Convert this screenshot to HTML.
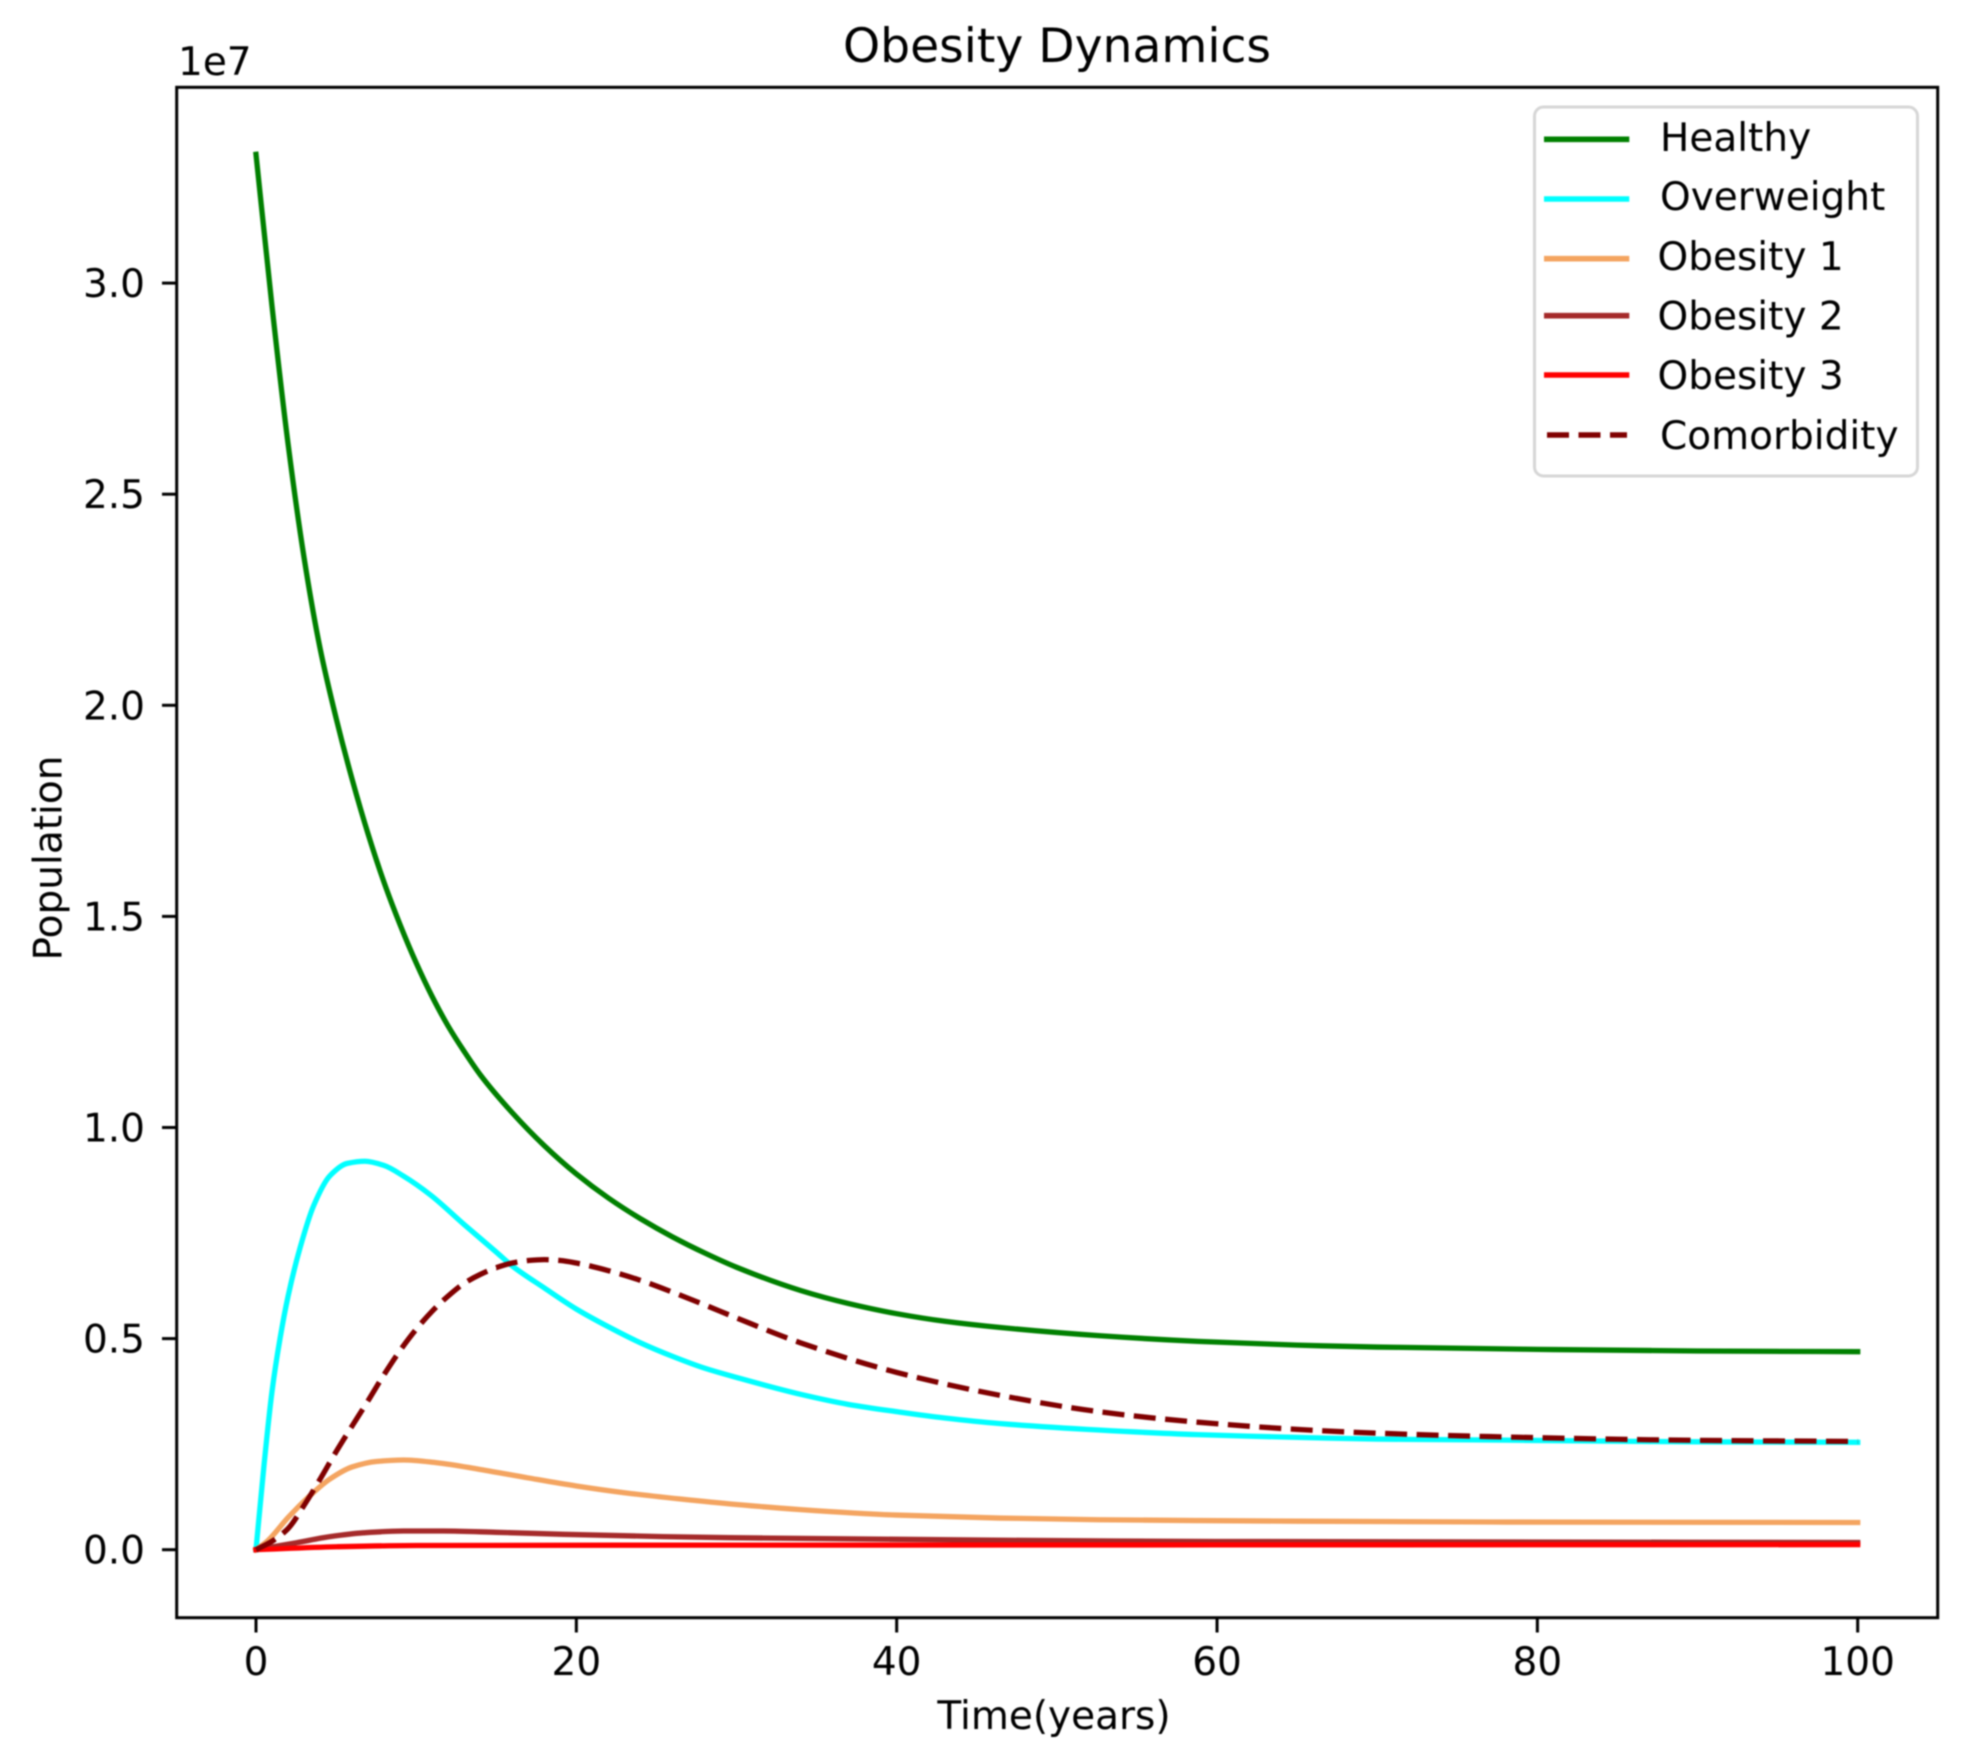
<!DOCTYPE html>
<html lang="en">
<head>
<meta charset="utf-8">
<title>Obesity Dynamics</title>
<style>
html,body{margin:0;padding:0;background:#fff;}
body{width:1968px;height:1757px;overflow:hidden;}
svg{display:block;filter:blur(0.9px);}
text{font-family:"DejaVu Sans","Liberation Sans",sans-serif;fill:#000;font-size:39px;}
</style>
</head>
<body>
<svg id="chart" xmlns="http://www.w3.org/2000/svg" width="1968" height="1757" viewBox="0 0 1968 1757">
  <rect x="0" y="0" width="1968" height="1757" fill="#fff"/>
  <g id="marks"></g>
  <g id="ticks"></g>
  <rect x="176.7" y="87.3" width="1761" height="1530.4" fill="none" stroke="#000" stroke-width="3"/>
  <text x="1057" y="62" text-anchor="middle" style="font-size:47.2px">Obesity Dynamics</text>
  <text x="1054" y="1729" text-anchor="middle">Time(years)</text>
  <text transform="translate(61.7 858) rotate(-90)" text-anchor="middle">Population</text>
  <text x="178" y="75">1e7</text>
  <g>
    <rect x="1534.5" y="107" width="383" height="369" rx="9" ry="9" fill="#fff" fill-opacity="0.8" stroke="#d6d6d6" stroke-width="3"/>
    <line x1="1544" y1="139.3" x2="1629.3" y2="139.3" stroke="#008000" stroke-width="5.6"/>
    <line x1="1544" y1="199" x2="1629.3" y2="199" stroke="#00ffff" stroke-width="5.6"/>
    <line x1="1544" y1="258.7" x2="1629.3" y2="258.7" stroke="#f4a460" stroke-width="5.6"/>
    <line x1="1544" y1="315.7" x2="1629.3" y2="315.7" stroke="#a52a2a" stroke-width="5.6"/>
    <line x1="1544" y1="375" x2="1629.3" y2="375" stroke="#ff0000" stroke-width="5.6"/>
    <line x1="1547" y1="435" x2="1627" y2="435" stroke="#800000" stroke-width="5.6" stroke-dasharray="22 9.5"/>
    <text x="1660" y="151">Healthy</text>
    <text x="1660" y="210">Overweight</text>
    <text x="1657.5" y="270">Obesity 1</text>
    <text x="1657.5" y="329.5">Obesity 2</text>
    <text x="1657.5" y="389">Obesity 3</text>
    <text x="1660" y="449">Comorbidity</text>
  </g>
</svg>
<script>
// Tick labels
const xTickValues = [0, 20, 40, 60, 80, 100];
const yTickValues = [0.0, 0.5, 1.0, 1.5, 2.0, 2.5, 3.0];

// Series, values in units of 1e7 people
const healthyTimes = [0, 1, 2, 3, 4, 5, 6, 7, 8, 9, 10, 11, 12, 13, 14, 16, 18, 20, 22, 24, 26, 28, 30, 34, 37, 40, 43, 46.4, 52.6, 58.8, 65, 70, 80, 90, 100];
const healthyValues = [3.305, 2.945, 2.62, 2.35, 2.135, 1.97, 1.825, 1.695, 1.58, 1.48, 1.39, 1.31, 1.24, 1.18, 1.125, 1.035, 0.957, 0.89, 0.833, 0.784, 0.741, 0.703, 0.669, 0.614, 0.583, 0.559, 0.541, 0.5265, 0.507, 0.4935, 0.4845, 0.48, 0.4745, 0.4706, 0.469];

const overweightTimes = [0, 0.5, 1, 1.5, 2, 2.75, 3.6, 4.6, 5.7, 6.8, 8, 9.2, 10.9, 13, 15, 16, 18, 20, 22, 24, 26, 28, 30, 34, 37, 40, 43, 46.4, 52.6, 58.8, 65, 70, 78, 90, 100];
const overweightValues = [0, 0.2, 0.375, 0.5, 0.6, 0.715, 0.815, 0.885, 0.915, 0.92, 0.91, 0.885, 0.84, 0.77, 0.705, 0.672, 0.62, 0.57, 0.528, 0.49, 0.458, 0.43, 0.408, 0.368, 0.344, 0.327, 0.312, 0.299, 0.2835, 0.2725, 0.266, 0.262, 0.2595, 0.2555, 0.2543];

const obesity1Times = [0, 0.7, 2, 3.2, 4.6, 6, 7.5, 9.2, 11.3, 14, 17, 20, 23, 26.5, 30, 34, 40, 46.4, 52.6, 58.8, 65, 78, 100];
const obesity1Values = [0, 0.02, 0.076, 0.122, 0.167, 0.196, 0.209, 0.2125, 0.206, 0.19, 0.17, 0.151, 0.135, 0.12, 0.107, 0.095, 0.082, 0.075, 0.071, 0.069, 0.0675, 0.0655, 0.0645];

const obesity2Times = [0, 2.54, 4.62, 6.7, 9.2, 11.7, 15, 19.2, 25.4, 29.6, 46, 60, 100];
const obesity2Values = [0, 0.0166, 0.031, 0.04, 0.0443, 0.0443, 0.0412, 0.0365, 0.031, 0.0284, 0.0225, 0.0195, 0.017];

const obesity3Times = [0, 5, 10, 30, 60, 100];
const obesity3Values = [0, 0.007, 0.01, 0.0108, 0.0114, 0.012];

const comorbidityTimes = [0, 1, 2, 3, 4, 5, 6, 7, 8, 9, 10, 11, 12, 13, 14, 15, 16, 17, 18, 19, 20, 22, 24, 26, 28, 30, 34, 40, 46.4, 52.6, 58.8, 65, 70, 78, 90, 100];
const comorbidityValues = [0, 0.02, 0.05, 0.105, 0.167, 0.232, 0.293, 0.353, 0.415, 0.472, 0.522, 0.565, 0.601, 0.631, 0.652, 0.668, 0.679, 0.685, 0.687, 0.685, 0.679, 0.661, 0.638, 0.61, 0.58, 0.549, 0.49, 0.42, 0.366, 0.327, 0.302, 0.285, 0.276, 0.267, 0.259, 0.2565];

// Axis functions
function xScale(t) { return 256 + 16.017 * t; }
function yScale(v) { return 1549.7 - 422.2 * v; }

const NS = 'http://www.w3.org/2000/svg';

// Monotone cubic path through the data points
function curvePath(ts, vs) {
  const n = ts.length;
  const px = ts.map(xScale);
  const py = vs.map(yScale);
  const slopes = [];
  for (let i = 0; i < n - 1; i++) {
    slopes.push((py[i + 1] - py[i]) / (px[i + 1] - px[i]));
  }
  const tang = [slopes[0]];
  for (let i = 1; i < n - 1; i++) {
    const a = slopes[i - 1], b = slopes[i];
    const ha = px[i] - px[i - 1], hb = px[i + 1] - px[i];
    tang.push(a * b <= 0 ? 0 : (3 * (ha + hb)) / ((2 * hb + ha) / a + (hb + 2 * ha) / b));
  }
  tang.push(slopes[n - 2]);
  let d = 'M' + px[0].toFixed(2) + ' ' + py[0].toFixed(2);
  for (let i = 0; i < n - 1; i++) {
    const h = (px[i + 1] - px[i]) / 3;
    d += 'C' + (px[i] + h).toFixed(2) + ' ' + (py[i] + h * tang[i]).toFixed(2) + ' ' +
      (px[i + 1] - h).toFixed(2) + ' ' + (py[i + 1] - h * tang[i + 1]).toFixed(2) + ' ' +
      px[i + 1].toFixed(2) + ' ' + py[i + 1].toFixed(2);
  }
  return d;
}

function drawSeries(seriesName, ts, vs, color, dash) {
  const el = document.createElementNS(NS, 'path');
  el.setAttribute('d', curvePath(ts, vs));
  el.setAttribute('fill', 'none');
  el.setAttribute('stroke', color);
  el.setAttribute('stroke-width', '5.3');
  el.setAttribute('stroke-linejoin', 'round');
  if (dash) {
    el.setAttribute('stroke-dasharray', dash);
    el.setAttribute('stroke-linecap', 'butt');
  } else {
    el.setAttribute('stroke-linecap', 'square');
  }
  
  
  document.getElementById('marks').appendChild(el);
}

drawSeries('line-healthy', healthyTimes, healthyValues, '#008000');
drawSeries('line-overweight', overweightTimes, overweightValues, '#00ffff');
drawSeries('line-obesity-1', obesity1Times, obesity1Values, '#f4a460');
drawSeries('line-obesity-2', obesity2Times, obesity2Values, '#a52a2a');
drawSeries('line-obesity-3', obesity3Times, obesity3Values, '#ff0000');
drawSeries('line-comorbidity', comorbidityTimes, comorbidityValues, '#800000', '22 9.5');

const tickGroup = document.getElementById('ticks');

xTickValues.forEach(function (value) {
  const x = xScale(value);
  const mark = document.createElementNS(NS, 'line');
  mark.setAttribute('x1', x);
  mark.setAttribute('x2', x);
  mark.setAttribute('y1', 1617.7);
  mark.setAttribute('y2', 1632.5);
  mark.setAttribute('stroke', '#000');
  mark.setAttribute('stroke-width', '3');
  
  
  tickGroup.appendChild(mark);
  const label = document.createElementNS(NS, 'text');
  label.setAttribute('x', x);
  label.setAttribute('y', 1675);
  label.setAttribute('text-anchor', 'middle');
  label.textContent = String(value);
  
  
  tickGroup.appendChild(label);
});

yTickValues.forEach(function (value) {
  const y = yScale(value);
  const mark = document.createElementNS(NS, 'line');
  mark.setAttribute('x1', 162);
  mark.setAttribute('x2', 176.7);
  mark.setAttribute('y1', y);
  mark.setAttribute('y2', y);
  mark.setAttribute('stroke', '#000');
  mark.setAttribute('stroke-width', '3');
  
  
  tickGroup.appendChild(mark);
  const label = document.createElementNS(NS, 'text');
  label.setAttribute('x', 145);
  label.setAttribute('y', y + 14);
  label.setAttribute('text-anchor', 'end');
  label.textContent = value.toFixed(1);
  
  
  tickGroup.appendChild(label);
});
</script>
</body>
</html>
